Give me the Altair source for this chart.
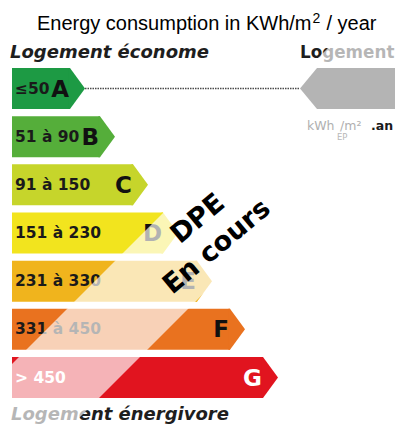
import altair as alt
import pandas as pd

# ---------------- data ----------------
classes = ["A", "B", "C", "D", "E", "F", "G"]
ranges = ["≤50", "51 à 90", "91 à 150", "151 à 230", "231 à 330", "331 à 450", "> 450"]
bar_end = [70, 100, 133, 163, 197, 230, 263]          # end of each arrow body (x units)
colors = ["#1d9a44", "#55ae3a", "#c6d52b", "#f2e41e", "#f0b41d", "#e9721f", "#e1141f"]
label_colors = ["#1a1a1a", "#1a1a1a", "#1a1a1a", "#1a1a1a", "#1a1a1a", "#1a1a1a", "#ffffff"]
letter_colors = ["#111111", "#111111", "#111111", "#111111", "#111111", "#111111", "#ffffff"]

title_main = "Energy consumption in KWh/m"
title_sup = "2"
title_tail = "/ year"
watermark = ["DPE", "En cours"]

# ---------------- layout helpers ----------------
W, H = 387, 416
BAR_START = 12
HALF = 0.4255            # half bar height in row units
PITCH = 48.17            # px per row
ROW0 = 88.5              # page y of first row centre


def row(page_y):
    return (page_y - ROW0) / PITCH


xs = alt.Scale(domain=[8, 8 + W], nice=False, zero=False)
ys = alt.Scale(domain=[row(8), row(8 + H)], nice=False, zero=False, reverse=True)
X = lambda f: alt.X(f, type="quantitative", scale=xs, axis=None)
Y = lambda f: alt.Y(f, type="quantitative", scale=ys, axis=None)

bars = pd.DataFrame({
    "cls": classes, "rng": ranges, "x0": BAR_START, "x1": bar_end,
    "r": list(range(len(classes))), "color": colors,
    "lc": label_colors, "tc": letter_colors,
})
bars["y0"] = bars["r"] - HALF
bars["y1"] = bars["r"] + HALF
bars["lx"] = BAR_START + 3
bars["tx"] = bars["x1"] - 1

SIZE = (HALF * 2 * PITCH) ** 2

body = alt.Chart(bars).mark_rect().encode(
    x=X("x0"), x2="x1", y=Y("y0"), y2="y1",
    color=alt.Color("color:N", scale=None))

tip = alt.Chart(bars).mark_point(
    shape="M-0.08,-1L0,-1L0.732,0L0,1L-0.08,1Z", size=SIZE,
    filled=True, opacity=1, strokeWidth=0).encode(
    x=X("x1"), y=Y("r"), color=alt.Color("color:N", scale=None))

rng_text = alt.Chart(bars).mark_text(
    align="left", baseline="middle", font="DejaVu Sans", fontWeight="bold",
    fontSize=15.5).encode(
    x=X("lx"), y=Y("r"), text="rng:N", color=alt.Color("lc:N", scale=None))

cls_text = alt.Chart(bars).mark_text(
    align="right", baseline="middle", font="DejaVu Sans", fontWeight="bold",
    fontSize=23, dy=1).encode(
    x=X("tx"), y=Y("r"), text="cls:N", color=alt.Color("tc:N", scale=None))


def txt(df, **kw):
    return alt.Chart(pd.DataFrame(df)).mark_text(**kw).encode(
        x=X("x"), y=Y("y"), text="t:N")


head_left = txt({"x": [10], "y": [row(58)], "t": ["Logement économe"]},
                align="left", baseline="alphabetic", font="DejaVu Sans",
                fontWeight="bold", fontStyle="italic", fontSize=18, color="#1e1e1e")
head_right = txt({"x": [300], "y": [row(58)], "t": ["Logement"]},
                 align="left", baseline="alphabetic", font="DejaVu Sans",
                 fontWeight="bold", fontSize=16.8, color="#1e1e1e")
foot = txt({"x": [11], "y": [row(420)], "t": ["Logement énergivore"]},
           align="left", baseline="alphabetic", font="DejaVu Sans",
           fontWeight="bold", fontStyle="italic", fontSize=18, color="#1e1e1e")

# white fading band (diagonal)
band = pd.DataFrame({"x": [0, 440]})
band["y"] = [row(376 - v) for v in band["x"]]
band["y2"] = [row(497 - v) for v in band["x"]]
fade = alt.Chart(band).mark_area(color="white", opacity=0.68, clip=True).encode(
    x=X("x"), y=Y("y"), y2="y2")

# dotted connector and grey pointer
conn = alt.Chart(pd.DataFrame({"x": [bar_end[0] + 15], "x2": [300], "y": [0]})).mark_rule(
    color="#4a4a4a", strokeWidth=1.6, strokeDash=[1.5, 1]).encode(
    x=X("x"), x2="x2", y=Y("y"))

grey = pd.DataFrame({"x0": [317], "x1": [400], "y0": [-HALF], "y1": [HALF], "r": [0]})
grey_body = alt.Chart(grey).mark_rect(color="#b4b4b4").encode(
    x=X("x0"), x2="x1", y=Y("y0"), y2="y1")
grey_tip = alt.Chart(grey).mark_point(
    shape="M0.08,-1L0,-1L-0.83,0L0,1L0.08,1Z", size=SIZE,
    filled=True, opacity=1, strokeWidth=0, color="#b4b4b4").encode(
    x=X("x0"), y=Y("r"))

unit1 = txt({"x": [307, 340], "y": [row(130), row(130)], "t": ["kWh", "/m²"]},
            align="left", baseline="alphabetic", font="DejaVu Sans", fontSize=12.5,
            color="#b0b0b0")
unit_sub = txt({"x": [337], "y": [row(140)], "t": ["EP"]},
               align="left", baseline="alphabetic", font="DejaVu Sans", fontSize=8.5,
               color="#b8b8b8")
unit2 = txt({"x": [371], "y": [row(130)], "t": [".an"]},
            align="left", baseline="alphabetic", font="DejaVu Sans", fontWeight="bold",
            fontSize=12.5, color="#1a1a1a")

t1 = txt({"x": [311.5], "y": [row(30)], "t": [title_main]},
         align="right", baseline="alphabetic", font="Liberation Sans", fontSize=20,
         color="#000000")
t2 = txt({"x": [312.5], "y": [row(23)], "t": [title_sup]},
         align="left", baseline="alphabetic", font="Liberation Sans", fontSize=14,
         color="#000000")
t3 = txt({"x": [326.5], "y": [row(30)], "t": [title_tail]},
         align="left", baseline="alphabetic", font="Liberation Sans", fontSize=20,
         color="#000000")

wm = txt({"x": [198, 217], "y": [row(219), row(247)], "t": watermark},
         align="center", baseline="middle", font="DejaVu Sans", fontWeight="bold",
         fontSize=27, angle=320, color="#000000")

chart = alt.layer(
    body, tip, rng_text, cls_text, head_left, head_right, foot,
    fade, conn, grey_body, grey_tip, unit1, unit_sub, unit2, t1, t2, t3, wm
).properties(
    width=W, height=H, autosize=alt.AutoSizeParams(type="none"), padding=0
).configure_view(stroke=None)

chart.save("out.html", embed_options={"renderer": "svg", "actions": False})
